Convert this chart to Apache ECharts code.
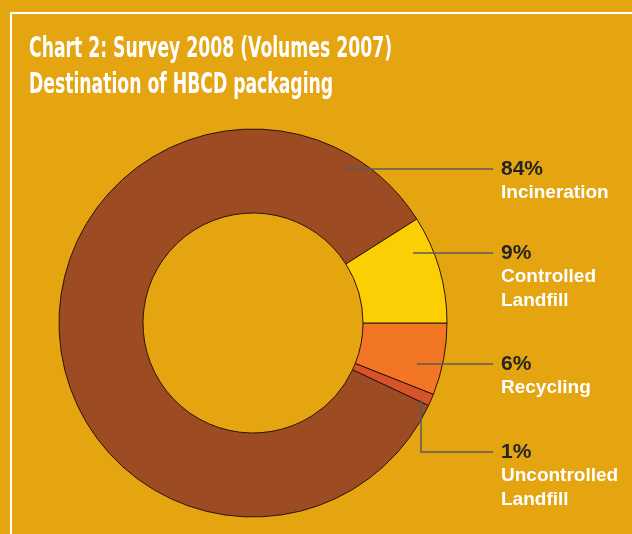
<!DOCTYPE html>
<html>
<head>
<meta charset="utf-8">
<script src="https://cdn.jsdelivr.net/npm/echarts@6/dist/echarts.min.js"></script>
<style>
html,body{margin:0;padding:0;background:#E5A511;}
#main{width:632px;height:534px;}
</style>
</head>
<body>
<div id="main"></div>
<script>
// ---- data ----
var categories = ['Recycling', 'Uncontrolled Landfill', 'Incineration', 'Controlled Landfill'];
var values = [6, 1, 84, 9];
var labelNames = ['Recycling', 'Uncontrolled\nLandfill', 'Incineration', 'Controlled\nLandfill'];
var titleLines = ['Chart 2: Survey 2008 (Volumes 2007)', 'Destination of HBCD packaging'];

// ---- styling / layout ----
var colors = ['#F27623', '#D8522A', '#9C4B22', '#FCCF04'];
var bg = '#E5A511';
var center = [253, 323];
var radii = [110, 194];
var labelX = 501;
var lineEndX = 493;
// leader line anchors (inside slice) and label line y, per category index
var leaders = [
  { anchor: [417, 364], y: 364 },
  { anchor: [421, 400], y: 452, elbow: true },
  { anchor: [343, 169], y: 169 },
  { anchor: [413, 253], y: 253 }
];

var narrowFont = '"Liberation Sans Narrow", "DejaVu Sans Condensed", "Liberation Sans", sans-serif';
var normalFont = '"Liberation Sans", Arial, sans-serif';

function measure(text, font) {
  var c = document.createElement('canvas').getContext('2d');
  c.font = font;
  return c.measureText(text).width;
}
var titleSize = 29;
var titleFontStr = 'bold ' + titleSize + 'px ' + narrowFont;
var titleScale = 363 / measure(titleLines[0], titleFontStr);

var data = categories.map(function (c, i) {
  return { name: c, value: values[i], itemStyle: { color: colors[i] } };
});
var labelData = categories.map(function (c, i) {
  return { name: c, value: values[i] };
});

var chart = echarts.init(document.getElementById('main'), null, { renderer: 'canvas' });
chart.setOption({
  backgroundColor: bg,
  animation: false,
  graphic: [
    { type: 'rect', shape: { x: 10, y: 12, width: 640, height: 2 }, style: { fill: '#ffffff' } },
    { type: 'rect', shape: { x: 10, y: 12, width: 2, height: 540 }, style: { fill: '#ffffff' } },
    { type: 'text', x: 29, y: 49, scaleX: titleScale,
      style: { text: titleLines[0], font: titleFontStr, fill: '#ffffff', verticalAlign: 'middle' } },
    { type: 'text', x: 29, y: 85, scaleX: titleScale,
      style: { text: titleLines[1], font: titleFontStr, fill: '#ffffff', verticalAlign: 'middle' } }
  ],
  series: [{
    type: 'pie',
    z: 2,
    center: center,
    radius: radii,
    startAngle: 0,
    clockwise: true,
    silent: true,
    itemStyle: { borderColor: '#2a1608', borderWidth: 1 },
    label: { show: false },
    labelLine: { show: false },
    emphasis: { disabled: true },
    data: data
  }, {
    type: 'pie',
    z: 3,
    center: center,
    radius: radii,
    startAngle: 0,
    clockwise: true,
    silent: true,
    avoidLabelOverlap: false,
    itemStyle: { color: 'rgba(0,0,0,0)', borderWidth: 0 },
    emphasis: { disabled: true },
    label: {
      show: true,
      position: 'outside',
      formatter: function (p) {
        var lines = labelNames[p.dataIndex].split('\n').map(function (s) { return '{n|' + s + '}'; });
        return '{p|' + p.value + '%}\n' + lines.join('\n');
      },
      rich: {
        p: { fontFamily: normalFont, fontWeight: 'bold', fontSize: 21, color: '#262421', lineHeight: 24 },
        n: { fontFamily: normalFont, fontWeight: 'bold', fontSize: 19, color: '#ffffff', lineHeight: 24 }
      }
    },
    labelLine: { show: true, lineStyle: { color: '#5b5b5b', width: 1.5 } },
    labelLayout: function (params) {
      var L = leaders[params.dataIndex];
      var pts = L.elbow
        ? [L.anchor, [L.anchor[0], L.y], [lineEndX, L.y]]
        : [L.anchor, [(L.anchor[0] + lineEndX) / 2, L.y], [lineEndX, L.y]];
      return {
        x: labelX,
        y: L.y - 12,
        align: 'left',
        verticalAlign: 'top',
        labelLinePoints: pts
      };
    },
    data: labelData
  }]
});
</script>
</body>
</html>
